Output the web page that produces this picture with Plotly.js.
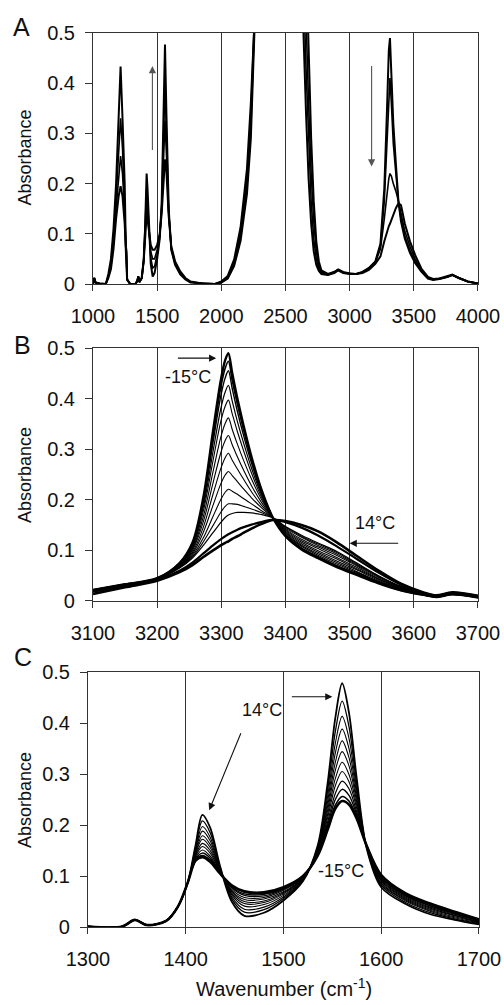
<!DOCTYPE html>
<html><head><meta charset="utf-8">
<script src="https://cdn.plot.ly/plotly-3.0.1.min.js"></script>
<style>html,body{margin:0;padding:0;background:#fff;}#chart{width:504px;height:1005px;}</style>
</head><body><div id="chart"></div>
<script>
// ---------- Panel A: full spectra 1000-4000 cm-1 ----------
const wnA = [1000,1010,1020,1050,1100,1120,1140,1160,1180,1200,1215,1230,1247,1256,1261,1266,1290,1330,1345,1353,1362,1380,1395,1405,1412,1418,1425,1435,1450,1465,1480,1500,1520,1535,1550,1561,1572,1590,1610,1640,1680,1720,1760,1850,1950,2000,2050,2100,2150,2200,2230,2260,2290,2350,2600,2640,2660,2680,2700,2720,2740,2760,2780,2830,2880,2910,2950,3000,3050,3100,3150,3200,3240,3270,3290,3305,3314,3325,3340,3360,3380,3400,3430,3470,3510,3560,3610,3650,3700,3760,3800,3850,3920,4000];
const specA_cold = [0.0,0.012,0.003,0.001,0.0, 0.012,0.03,0.07,0.13,0.175, 0.195,0.175,0.12,0.068,0.062, 0.008,0.0,0.0,0.006,0.015, 0.004,0.012,0.045,0.095,0.13, 0.138,0.128,0.105,0.078,0.068, 0.068,0.078,0.1,0.14,0.215, 0.248,0.225,0.135,0.075,0.045, 0.025,0.012,0.005,0.001,0.0, 0.003,0.011,0.036,0.086,0.18, 0.29,0.44,0.66,1.2,1.2, 0.5,0.34,0.21,0.12,0.065, 0.038,0.026,0.02,0.018,0.022, 0.027,0.022,0.02,0.02,0.024, 0.032,0.045,0.08,0.19,0.34, 0.465,0.49,0.415,0.32,0.24, 0.165,0.125,0.09,0.062,0.042, 0.024,0.011,0.008,0.01,0.014, 0.018,0.012,0.005,0.001];
const specA_mid1 = [0.0,0.012,0.003,0.001,0.0, 0.014,0.036,0.082,0.15,0.22, 0.255,0.22,0.14,0.07,0.063, 0.008,0.0,0.0,0.006,0.015, 0.004,0.012,0.046,0.097,0.14, 0.162,0.145,0.108,0.065,0.05, 0.05,0.068,0.097,0.147,0.25, 0.325,0.26,0.14,0.072,0.042, 0.023,0.011,0.004,0.001,0.0, 0.003,0.012,0.04,0.095,0.197, 0.31,0.47,0.69,1.2,1.2, 0.6,0.43,0.28,0.165,0.09, 0.05,0.03,0.022,0.018,0.023, 0.028,0.023,0.02,0.02,0.024, 0.031,0.044,0.076,0.165,0.28, 0.38,0.41,0.36,0.28,0.22, 0.165,0.13,0.095,0.067,0.045, 0.025,0.012,0.009,0.01,0.014, 0.018,0.012,0.005,0.001];
const specA_mid2 = [0.0,0.012,0.003,0.001,0.0, 0.017,0.042,0.095,0.17,0.27, 0.33,0.27,0.16,0.072,0.064, 0.009,0.0,0.0,0.006,0.015, 0.004,0.012,0.047,0.1,0.155, 0.19,0.165,0.112,0.052,0.032, 0.035,0.058,0.094,0.155,0.29, 0.4,0.3,0.145,0.07,0.04, 0.021,0.01,0.004,0.001,0.0, 0.004,0.014,0.044,0.104,0.213, 0.335,0.5,0.72,1.2,1.2, 0.72,0.53,0.36,0.22,0.125, 0.065,0.036,0.024,0.019,0.024, 0.028,0.023,0.021,0.02,0.023, 0.03,0.043,0.07,0.13,0.18, 0.21,0.22,0.215,0.2,0.185, 0.165,0.14,0.105,0.075,0.05, 0.027,0.013,0.009,0.011,0.014, 0.018,0.012,0.005,0.001];
const specA_warm = [0.0,0.012,0.003,0.001,0.0, 0.02,0.05,0.11,0.2,0.33, 0.433,0.33,0.2,0.075,0.066, 0.01,0.0,0.0,0.006,0.015, 0.004,0.012,0.048,0.105,0.17, 0.22,0.19,0.115,0.04,0.015, 0.022,0.05,0.09,0.16,0.33, 0.477,0.34,0.15,0.068,0.038, 0.019,0.009,0.003,0.001,0.0, 0.005,0.016,0.049,0.113,0.23, 0.36,0.53,0.76,1.2,1.2, 0.85,0.64,0.45,0.29,0.165, 0.085,0.045,0.027,0.02,0.024, 0.029,0.024,0.021,0.02,0.022, 0.028,0.04,0.055,0.085,0.104, 0.115,0.12,0.128,0.139,0.151, 0.161,0.157,0.12,0.085,0.058, 0.03,0.014,0.01,0.011,0.015, 0.019,0.012,0.005,0.001];

// ---------- Panel B: 3100-3700 cm-1 ----------
const wnB = [3100,3150,3200,3235,3255,3272,3287,3299,3306,3311,3317,3325,3335,3347,3362,3381,3400,3425,3450,3480,3510,3545,3580,3615,3635,3660,3700];
const specB_00 = [0.022,0.033,0.045,0.075,0.115,0.205,0.335,0.435,0.476,0.490,0.450,0.400,0.345,0.285,0.222,0.163,0.128,0.102,0.085,0.067,0.052,0.035,0.021,0.012,0.008,0.013,0.007];
const specB_01 = [0.022,0.033,0.045,0.075,0.114,0.200,0.325,0.421,0.460,0.474,0.436,0.389,0.337,0.280,0.220,0.163,0.129,0.103,0.087,0.069,0.053,0.036,0.021,0.012,0.008,0.013,0.007];
const specB_02 = [0.022,0.033,0.045,0.074,0.112,0.195,0.313,0.404,0.441,0.455,0.420,0.375,0.326,0.273,0.216,0.163,0.130,0.105,0.088,0.070,0.055,0.037,0.022,0.012,0.008,0.013,0.007];
const specB_03 = [0.021,0.032,0.045,0.073,0.109,0.186,0.295,0.379,0.413,0.426,0.395,0.355,0.311,0.263,0.212,0.163,0.132,0.108,0.091,0.073,0.057,0.038,0.023,0.013,0.008,0.013,0.007];
const specB_04 = [0.021,0.032,0.044,0.072,0.106,0.178,0.277,0.354,0.385,0.397,0.370,0.335,0.296,0.253,0.207,0.163,0.134,0.110,0.094,0.076,0.059,0.039,0.023,0.013,0.009,0.014,0.008];
const specB_05 = [0.020,0.032,0.044,0.071,0.103,0.167,0.255,0.323,0.351,0.362,0.339,0.310,0.277,0.241,0.202,0.164,0.136,0.113,0.097,0.079,0.062,0.041,0.024,0.013,0.009,0.014,0.008];
const specB_06 = [0.020,0.031,0.044,0.070,0.100,0.157,0.233,0.292,0.317,0.327,0.309,0.285,0.258,0.228,0.196,0.164,0.138,0.116,0.100,0.083,0.064,0.043,0.025,0.014,0.009,0.014,0.008];
const specB_07 = [0.020,0.031,0.044,0.069,0.096,0.146,0.211,0.261,0.283,0.292,0.278,0.261,0.240,0.216,0.190,0.164,0.140,0.119,0.104,0.086,0.067,0.044,0.026,0.014,0.009,0.014,0.008];
const specB_08 = [0.019,0.031,0.044,0.068,0.093,0.136,0.189,0.231,0.249,0.256,0.248,0.236,0.221,0.204,0.185,0.164,0.142,0.122,0.107,0.090,0.070,0.046,0.027,0.014,0.010,0.015,0.009];
const specB_09 = [0.019,0.030,0.043,0.067,0.090,0.125,0.167,0.200,0.215,0.221,0.217,0.211,0.202,0.192,0.179,0.164,0.144,0.126,0.110,0.093,0.072,0.048,0.028,0.015,0.010,0.015,0.009];
const specB_10 = [0.018,0.030,0.043,0.066,0.087,0.117,0.149,0.175,0.187,0.192,0.192,0.191,0.187,0.182,0.175,0.164,0.146,0.128,0.113,0.096,0.074,0.049,0.028,0.015,0.010,0.015,0.009];
const specB_11 = [0.018,0.030,0.043,0.065,0.085,0.110,0.135,0.155,0.165,0.170,0.173,0.175,0.175,0.174,0.171,0.164,0.147,0.130,0.115,0.098,0.076,0.050,0.029,0.015,0.010,0.015,0.009];
const specB_12 = [0.020,0.030,0.042,0.060,0.076,0.094,0.110,0.122,0.128,0.132,0.136,0.141,0.146,0.151,0.156,0.161,0.156,0.145,0.130,0.108,0.084,0.056,0.032,0.016,0.011,0.016,0.010];
const specB_13 = [0.014,0.027,0.040,0.057,0.071,0.087,0.100,0.110,0.115,0.118,0.123,0.128,0.135,0.143,0.152,0.160,0.158,0.150,0.138,0.116,0.090,0.060,0.034,0.017,0.011,0.017,0.010];

// ---------- Panel C: 1300-1700 cm-1 ----------
const wnC = [1300,1335,1348,1360,1380,1392,1402,1410,1417,1425,1435,1447,1460,1480,1500,1520,1535,1545,1553,1560,1567,1575,1585,1600,1625,1650,1675,1700];
const specC_00 = [0.001,0.001,0.014,0.004,0.012,0.04,0.087,0.130,0.137,0.128,0.105,0.082,0.070,0.068,0.078,0.100,0.140,0.190,0.232,0.247,0.240,0.212,0.160,0.102,0.066,0.046,0.030,0.015];
const specC_01 = [0.001,0.001,0.014,0.004,0.012,0.04,0.087,0.131,0.140,0.131,0.106,0.081,0.068,0.066,0.077,0.100,0.141,0.194,0.239,0.256,0.247,0.215,0.160,0.101,0.065,0.045,0.029,0.015];
const specC_02 = [0.001,0.001,0.014,0.004,0.012,0.04,0.087,0.133,0.145,0.135,0.107,0.079,0.065,0.064,0.075,0.099,0.142,0.199,0.250,0.270,0.258,0.220,0.160,0.100,0.064,0.044,0.028,0.014];
const specC_03 = [0.001,0.001,0.014,0.004,0.012,0.04,0.087,0.135,0.151,0.139,0.108,0.077,0.062,0.061,0.074,0.098,0.143,0.205,0.262,0.286,0.271,0.225,0.159,0.098,0.062,0.042,0.027,0.013];
const specC_04 = [0.001,0.001,0.014,0.004,0.012,0.04,0.087,0.138,0.158,0.145,0.109,0.074,0.058,0.058,0.072,0.098,0.145,0.213,0.277,0.305,0.285,0.232,0.159,0.096,0.061,0.041,0.026,0.013];
const specC_05 = [0.001,0.001,0.014,0.004,0.012,0.04,0.087,0.140,0.164,0.150,0.110,0.071,0.054,0.055,0.069,0.097,0.147,0.220,0.291,0.323,0.299,0.238,0.158,0.094,0.059,0.039,0.025,0.012];
const specC_06 = [0.001,0.001,0.014,0.004,0.012,0.04,0.087,0.143,0.172,0.156,0.111,0.069,0.050,0.051,0.067,0.096,0.148,0.228,0.307,0.344,0.316,0.245,0.158,0.092,0.057,0.037,0.023,0.011];
const specC_07 = [0.001,0.001,0.014,0.004,0.012,0.04,0.087,0.145,0.179,0.162,0.113,0.066,0.046,0.048,0.065,0.095,0.150,0.236,0.323,0.365,0.332,0.252,0.157,0.090,0.055,0.035,0.022,0.010];
const specC_08 = [0.001,0.001,0.014,0.004,0.012,0.04,0.087,0.148,0.188,0.169,0.114,0.063,0.041,0.044,0.062,0.094,0.152,0.245,0.341,0.388,0.350,0.260,0.157,0.087,0.053,0.033,0.020,0.009];
const specC_09 = [0.001,0.001,0.014,0.004,0.012,0.04,0.087,0.152,0.197,0.176,0.116,0.059,0.035,0.039,0.059,0.093,0.154,0.255,0.360,0.413,0.370,0.268,0.156,0.085,0.051,0.031,0.018,0.008];
const specC_10 = [0.001,0.001,0.014,0.004,0.012,0.04,0.087,0.156,0.208,0.185,0.118,0.055,0.029,0.034,0.056,0.092,0.157,0.267,0.383,0.443,0.393,0.278,0.156,0.082,0.048,0.028,0.016,0.007];
const specC_11 = [0.001,0.001,0.014,0.004,0.012,0.04,0.087,0.160,0.220,0.195,0.120,0.050,0.022,0.028,0.052,0.090,0.160,0.280,0.410,0.478,0.420,0.290,0.155,0.078,0.045,0.025,0.014,0.005];

// ---------- tick values ----------
const ticksA = [1000,1500,2000,2500,3000,3500,4000];
const ticksB = [3100,3200,3300,3400,3500,3600,3700];
const ticksC = [1300,1400,1500,1600,1700];
const ticksY = [0,0.1,0.2,0.3,0.4,0.5];

// ---------- build traces ----------
const seriesA = [specA_cold, specA_mid1, specA_mid2, specA_warm];
const widthA = [2.0, 1.6, 1.6, 2.0];
const seriesB = [specB_00,specB_01,specB_02,specB_03,specB_04,specB_05,specB_06,specB_07,specB_08,specB_09,specB_10,specB_11,specB_12,specB_13];
const widthB = [2.4,1.6,1.4,1.2,1.1,1.1,1.1,1.1,1.1,1.1,1.1,1.2,2.2,2.6];
const seriesC = [specC_00,specC_01,specC_02,specC_03,specC_04,specC_05,specC_06,specC_07,specC_08,specC_09,specC_10,specC_11];
const widthC = [2.6,1.6,1.4,1.2,1.1,1.1,1.1,1.1,1.1,1.1,1.3,1.8];

const traces = [];
seriesA.forEach((s,i)=>traces.push({x:wnA,y:s,xaxis:'x',yaxis:'y',mode:'lines',line:{color:'#000',width:widthA[i]},hoverinfo:'skip',showlegend:false}));
seriesB.forEach((s,i)=>traces.push({x:wnB,y:s,xaxis:'x2',yaxis:'y2',mode:'lines',line:{color:'#000',width:widthB[i],shape:'spline',smoothing:0.9},hoverinfo:'skip',showlegend:false}));
seriesC.forEach((s,i)=>traces.push({x:wnC,y:s,xaxis:'x3',yaxis:'y3',mode:'lines',line:{color:'#000',width:widthC[i],shape:'spline',smoothing:0.9},hoverinfo:'skip',showlegend:false}));

const FONT = 'Liberation Sans, Arial, Helvetica, sans-serif';
function xax(dom, anchor, rng, tv){
  return {domain:dom, anchor:anchor, range:rng, tickvals:tv, ticks:'outside', ticklen:6, tickcolor:'#333',
    showline:true, mirror:true, linecolor:'#333', linewidth:1, showgrid:true, gridcolor:'#333', gridwidth:1,
    zeroline:false, tickfont:{size:20, color:'#111'}, ticklabelstandoff:8, fixedrange:true};
}
function yax(dom, anchor){
  return {domain:dom, anchor:anchor, range:[0,0.5], tickvals:ticksY, ticks:'outside', ticklen:7, tickcolor:'#333',
    showline:true, mirror:true, linecolor:'#333', linewidth:1, showgrid:false, zeroline:false,
    tickfont:{size:20, color:'#111'}, ticklabelstandoff:6, fixedrange:true};
}

const arrow = (xr, yr, x, y, ax, ay, col) => ({xref:xr, yref:yr, axref:xr, ayref:yr, x:x, y:y, ax:ax, ay:ay, text:'',
  showarrow:true, arrowhead:2, arrowsize:1.3, arrowwidth:1.1, arrowcolor:col||'#111', standoff:0, startstandoff:0});
const label = (xr, yr, x, y, t) => ({xref:xr, yref:yr, x:x, y:y, text:t, showarrow:false, font:{size:18, color:'#111', family:FONT}});
const ptext = (x, y, t, size, angle, yanc) => ({xref:'paper', yref:'paper', x:x, y:y, text:t, showarrow:false,
  xanchor:'center', yanchor:yanc||'middle', textangle:angle||0, font:{size:size, color:'#111', family:FONT}});

const layout = {
  width:504, height:1005, margin:{l:0,r:0,t:0,b:0}, paper_bgcolor:'#fff', plot_bgcolor:'#fff',
  font:{family:FONT, color:'#111'}, showlegend:false,
  xaxis: xax([0.1845,0.9484],'y',[1000,4000],ticksA),
  yaxis: yax([0.7174,0.9672],'x'),
  xaxis2: xax([0.1845,0.9484],'y2',[3100,3700],ticksB),
  yaxis2: yax([0.4020,0.6537],'x2'),
  xaxis3: xax([0.1746,0.9504],'y3',[1300,1700],ticksC),
  yaxis3: yax([0.0776,0.3313],'x3'),
  annotations:[
    ptext(0.043,0.9734,'A',25), ptext(0.045,0.6567,'B',25), ptext(0.046,0.3466,'C',25),
    ptext(0.0496,0.8433,'Absorbance',18,-90), ptext(0.0496,0.5274,'Absorbance',18,-90), ptext(0.0496,0.2040,'Absorbance',18,-90),
    ptext(0.5635,0.003,'Wavenumber (cm<sup>-1</sup>)',20,0,'bottom'),
    arrow('x','y',1463,0.434,1463,0.264,'#555'),
    arrow('x','y',3171,0.234,3171,0.437,'#555'),
    label('x2','y2',3248,0.442,'-15°C'),
    arrow('x2','y2',3292,0.48,3230,0.48),
    label('x2','y2',3540,0.1535,'14°C'),
    arrow('x2','y2',3500,0.114,3578,0.114),
    label('x3','y3',1478,0.4255,'14°C'),
    arrow('x3','y3',1424,0.229,1457,0.383),
    arrow('x3','y3',1550,0.4516,1507,0.4516),
    label('x3','y3',1559,0.110,'-15°C')
  ]
};
Plotly.newPlot('chart', traces, layout, {staticPlot:true, displayModeBar:false});
</script></body></html>
